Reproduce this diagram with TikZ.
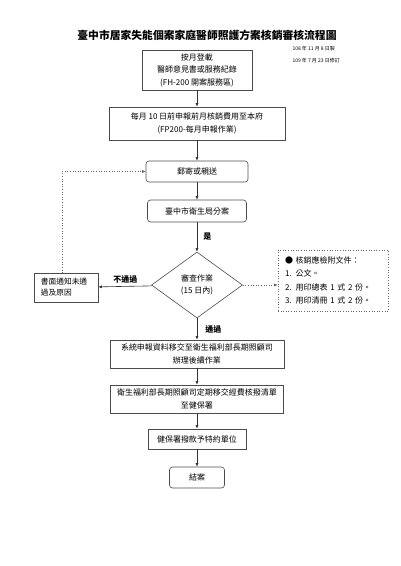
\documentclass[tikz,border=0pt]{standalone}
\usepackage{fontspec}
\setmainfont{Noto Sans CJK TC}
\usetikzlibrary{shapes.geometric,arrows.meta}
\begin{document}
\begin{tikzpicture}[x=1pt,y=-1pt,
  box/.style={draw=black!70,line width=0.6pt,inner sep=0pt,align=center,font=\fontsize{8}{12.5}\selectfont},
  rbox/.style={box,rounded corners=3pt},
  arr/.style={draw=black!80,line width=0.6pt,-{Latex[length=3.5pt,width=3pt]}},
  dot/.style={arr,dotted,draw=black!60},
  lab/.style={inner sep=1pt,font=\fontsize{8}{9}\selectfont\bfseries}]
\useasboundingbox (0,0) rectangle (400,566);
\node[font=\fontsize{10.8}{13}\selectfont\bfseries] (title) at (207,35) {臺中市居家失能個案家庭醫師照護方案核銷審核流程圖};
\node[anchor=west,font=\fontsize{5}{6}\selectfont] (made) at (289,49) {108 年 11 月 8 日製};
\node[anchor=west,font=\fontsize{5}{6}\selectfont] (rev) at (289,61) {109 年 7 月 23 日修訂};
\node[box,minimum width=110,minimum height=40] (b1) at (197,70) {按月登載\\醫師意見書或服務紀錄\\(FH-200 開案服務區)};
\node[box,minimum width=176,minimum height=33] (b2) at (197,123.5) {每月 10 日前申報前月核銷費用至本府\\(FP200-每月申報作業)};
\node[rbox,minimum width=102,minimum height=21] (b3) at (197,171.5) {郵寄或親送};
\node[rbox,minimum width=99,minimum height=22] (b4) at (197,211) {臺中市衛生局分案};
\node[box,diamond,minimum width=91,minimum height=66] (dia) at (197,285) {審查作業\\(15 日內)};
\node[box,align=left,text width=50,inner xsep=7pt,minimum height=29,font=\fontsize{7.7}{11}\selectfont] (nopass) at (66,287.5) {書面通知未通\\過及原因};
\node[box,dotted,draw=black!60,align=left,text width=96,inner xsep=7pt,minimum height=61,font=\fontsize{8}{13.5}\selectfont] (docs) at (333,280.5) {● 核銷應檢附文件：\\1. 公文。\\2. 用印總表 1 式 2 份。\\3. 用印清冊 1 式 2 份。};
\node[box,minimum width=174,minimum height=28] (b5) at (197,354) {系統申報資料移交至衛生福利部長期照顧司\\辦理後續作業};
\node[box,minimum width=173,minimum height=28] (b6) at (197,399) {衛生福利部長期照顧司定期移交經費核撥清單\\至健保署};
\node[box,minimum width=98,minimum height=20] (b7) at (197,439) {健保署撥款予特約單位};
\node[rbox,minimum width=55,minimum height=21] (b8) at (197,477.5) {結案};
\draw[arr] (b1) -- (b2);
\draw[arr] (b2) -- (b3);
\draw[arr] (b3) -- (b4);
\draw[arr] (b4) -- node[lab,right=5pt] {是} (dia);
\draw[arr] (dia) -- node[lab,above=2pt] {不通過} (nopass);
\draw[dot] (dia.east) -- (dia.east -| docs.west);
\draw[dot] ([xshift=-4pt]nopass.north) |- (b3.west);
\draw[arr] (dia) -- node[lab,right=7pt] {通過} (b5);
\draw[arr] (b5) -- (b6);
\draw[arr] (b6) -- (b7);
\draw[arr] (b7) -- (b8);
\end{tikzpicture}
\end{document}
